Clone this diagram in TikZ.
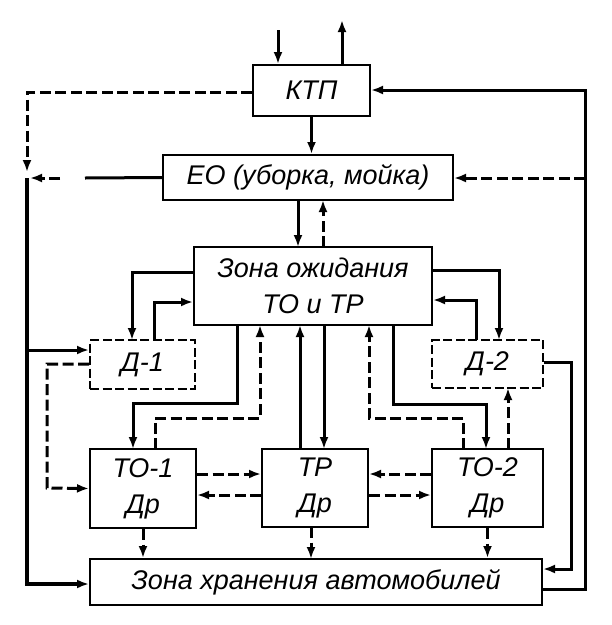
\documentclass[tikz,border=0pt]{standalone}
\usepackage{fontspec}
\setmainfont{Liberation Sans}
\usetikzlibrary{arrows.meta}

\begin{document}
\begin{tikzpicture}[x=1pt,y=-1pt,
  box/.style={draw,line width=2pt,inner sep=0pt,align=center,
    font=\itshape\fontsize{27}{36}\selectfont},
  dbox/.style={box,dash pattern=on 9pt off 3.5pt},
  arr/.style={line width=3pt,-{Latex[length=12pt,width=9pt]}},
  darr/.style={arr,dash pattern=on 11pt off 4.5pt},
  thick line/.style={line width=4pt}]
\useasboundingbox (0,0) rectangle (612,625);
\node[box,minimum width=117pt,minimum height=51pt] (ktp) at (311.5,90.5) {КТП};
\node[box,minimum width=290pt,minimum height=45pt] (eo) at (308,177.5) {ЕО (уборка, мойка)};
\node[box,minimum width=238pt,minimum height=78pt] (zo) at (313,286) {Зона ожидания\\ТО и ТР};
\node[dbox,minimum width=105pt,minimum height=49pt] (d1) at (142.5,364.5) {Д-1};
\node[dbox,minimum width=111pt,minimum height=48pt] (d2) at (487.5,364) {Д-2};
\node[box,minimum width=106pt,minimum height=79pt] (to1) at (143,488.5) {ТО-1\\Др};
\node[box,minimum width=106pt,minimum height=78pt] (tr) at (315,488) {ТР\\Др};
\node[box,minimum width=111pt,minimum height=78pt] (to2) at (487.5,488) {ТО-2\\Др};
\node[box,minimum width=452pt,minimum height=46pt] (zh) at (316,582) {Зона хранения автомобилей};
\coordinate (in) at (278,30);
\coordinate (out) at (342,20);
\coordinate (lt) at (27,92);
\coordinate (lm) at (27,178);
\coordinate (lb) at (27,584);
\coordinate (rt) at (585,90);
\coordinate (rb) at (585,589);
\draw[arr] (in) -- (in |- ktp.north);
\draw[arr] (out |- ktp.north) -- (out);
\draw[arr] (ktp.south) -- (ktp.south |- eo.north);
\draw[arr] (298,200) -- (298,247);
\draw[darr] (323,247) -- (323,200);
\draw[darr] (ktp.west |- lt) -- (lt) -- (27,172);
\draw[arr,-] (eo.west) -- (85,178);
\draw[darr] (60,178) -- (30,178);
\draw[arr,thick line] (lm) -- (lb) -- (zh.west |- lb);
\draw[arr] (27,350) -- (d1.west |- 0,350);
\draw[arr] (zo.west |- 0,272) -- (132,272) -- (132,340);
\draw[arr] (154,340) -- (154,302) -- (zo.west |- 0,302);
\draw[darr] (d1.west |- 0,364) -- (47,364) -- (47,488) -- (to1.west);
\draw[arr] (237,325) -- (237,403) -- (133,403) -- (133,449);
\draw[darr] (155,449) -- (155,418) -- (260,418) -- (260,325);
\draw[arr] (300,449) -- (300,325);
\draw[arr] (324,325) -- (324,449);
\draw[darr] (463,449) -- (463,418) -- (369,418) -- (369,325);
\draw[arr] (393,325) -- (393,404) -- (486,404) -- (486,449);
\draw[darr] (508,449) -- (508,388);
\draw[arr] (zo.east |- 0,270) -- (499,270) -- (499,340);
\draw[arr] (476,340) -- (476,300) -- (zo.east |- 0,300);
\draw[arr] (d2.east |- 0,362) -- (571,362) -- (571,569) -- (zh.east |- 0,569);
\draw[arr] (zh.east |- rb) -- (rb) -- (rt) -- (ktp.east |- rt);
\draw[darr] (585,178) -- (eo.east |- 0,178);
\draw[darr] (to1.east |- 0,474) -- (tr.west |- 0,474);
\draw[darr] (tr.west |- 0,495) -- (to1.east |- 0,495);
\draw[darr] (to2.west |- 0,474) -- (tr.east |- 0,474);
\draw[darr] (tr.east |- 0,495) -- (to2.west |- 0,495);
\draw[darr] (to1.south) -- (to1.south |- zh.north);
\draw[darr] (311,527) -- (311,559);
\draw[darr] (to2.south) -- (to2.south |- zh.north);
\end{tikzpicture}
\end{document}
